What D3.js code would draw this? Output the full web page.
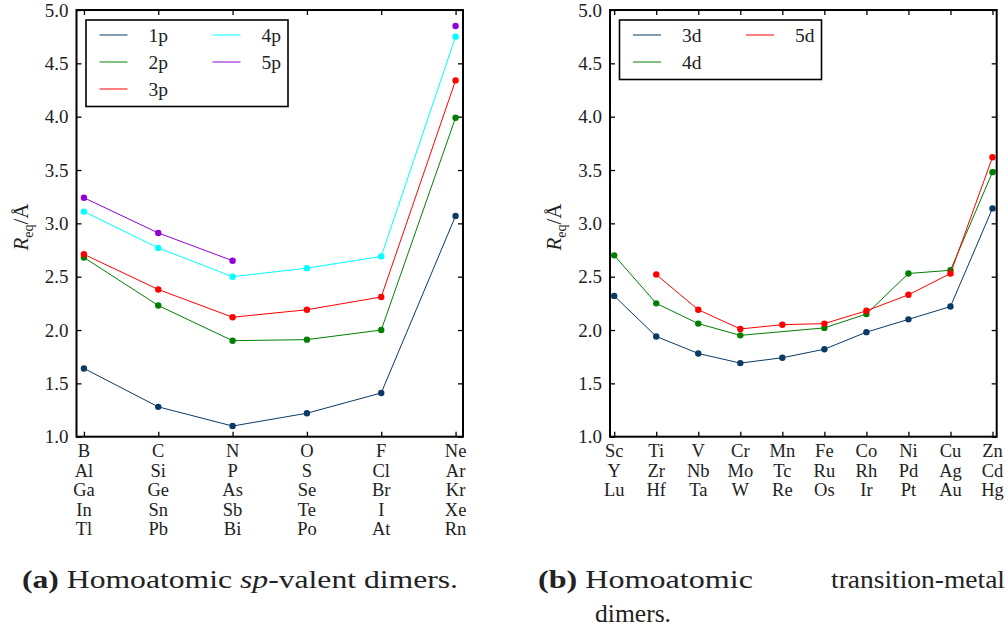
<!DOCTYPE html>
<html>
<head>
<meta charset="utf-8">
<script src="https://cdn.jsdelivr.net/npm/d3@7"></script>
<style>
  body { margin: 0; background: #fff; }
</style>
</head>
<body>
<svg id="chart" width="1008" height="633" font-family="Liberation Serif, DejaVu Serif, serif"></svg>
<script>
const FONT = 'Liberation Serif, DejaVu Serif, serif';

// --- panel (a): sp-valent dimers ---
const spCols = [
  ['B', 'Al', 'Ga', 'In', 'Tl'],
  ['C', 'Si', 'Ge', 'Sn', 'Pb'],
  ['N', 'P', 'As', 'Sb', 'Bi'],
  ['O', 'S', 'Se', 'Te', 'Po'],
  ['F', 'Cl', 'Br', 'I', 'At'],
  ['Ne', 'Ar', 'Kr', 'Xe', 'Rn']
];
const spNames = ['1p', '2p', '3p', '4p', '5p'];
const sp1 = [1.64, 1.28, 1.10, 1.22, 1.41, 3.07];
const sp2 = [2.68, 2.23, 1.90, 1.91, 2.00, 3.99];
const sp3 = [2.71, 2.38, 2.12, 2.19, 2.31, 4.34];
const sp4 = [3.11, 2.77, 2.50, 2.58, 2.69, 4.75];
const sp5 = [3.24, 2.91, 2.65, null, null, 4.85];

// --- panel (b): transition-metal dimers ---
const tmCols = [
  ['Sc', 'Y', 'Lu'], ['Ti', 'Zr', 'Hf'], ['V', 'Nb', 'Ta'], ['Cr', 'Mo', 'W'],
  ['Mn', 'Tc', 'Re'], ['Fe', 'Ru', 'Os'], ['Co', 'Rh', 'Ir'], ['Ni', 'Pd', 'Pt'],
  ['Cu', 'Ag', 'Au'], ['Zn', 'Cd', 'Hg']
];
const tmNames = ['3d', '4d', '5d'];
const tm3 = [2.32, 1.94, 1.78, 1.69, 1.74, 1.82, 1.98, 2.10, 2.22, 3.14];
const tm4 = [2.70, 2.25, 2.06, 1.95, null, 2.02, 2.15, 2.53, 2.56, 3.48];
const tm5 = [null, 2.52, 2.19, 2.01, 2.05, 2.06, 2.18, 2.33, 2.53, 3.62];

const yTicks = [1.0, 1.5, 2.0, 2.5, 3.0, 3.5, 4.0, 4.5, 5.0];
const colors = ['#0b3a66', '#008000', '#ff0000', '#00ffff', '#9400d3'];

const svg = d3.select('#chart');

function panel(opt) {
  const x = d3.scaleLinear().domain([-0.1, opt.cols.length - 0.9]).range([opt.x0, opt.x1]);
  const y = d3.scaleLinear().domain([1, 5]).range([436.7, 10]);
  const g = svg.append('g');

  // ticks on all four sides, pointing in
  const idx = d3.range(opt.cols.length);
  g.append('g').attr('transform', 'translate(0,436.7)')
    .call(d3.axisBottom(x).tickValues(idx).tickSize(-5).tickFormat(''));
  g.append('g').attr('transform', 'translate(0,10)')
    .call(d3.axisTop(x).tickValues(idx).tickSize(-5).tickFormat(''));
  g.append('g').attr('transform', `translate(${opt.x0},0)`)
    .call(d3.axisLeft(y).tickValues(yTicks).tickSize(-5).tickPadding(8).tickFormat(d3.format('.1f')));
  g.append('g').attr('transform', `translate(${opt.x1},0)`)
    .call(d3.axisRight(y).tickValues(yTicks).tickSize(-5).tickFormat(''));
  g.selectAll('.domain').remove();
  g.selectAll('.tick line').attr('stroke', '#000').attr('stroke-width', 1.3);
  g.selectAll('.tick text').attr('font-family', FONT).attr('font-size', 19).attr('fill', '#222');

  // element labels below axis
  const lab = g.append('g').attr('font-size', 18.5).attr('fill', '#222').attr('text-anchor', 'middle');
  opt.cols.forEach((col, i) => {
    col.forEach((el, j) => {
      lab.append('text').attr('x', x(i)).attr('y', 457 + j * 19.6).text(el);
    });
  });

  // series
  opt.series.forEach((vals, s) => {
    const pts = vals.map((v, i) => ({ i, v }));
    const line = d3.line().x(d => x(d.i)).y(d => y(d.v)).defined(d => d.v != null);
    // panel (b) joins across missing elements, panel (a) breaks the line
    const data = opt.bridge ? pts.filter(d => d.v != null) : pts;
    g.append('path').datum(data).attr('d', line)
      .attr('fill', 'none').attr('stroke', colors[s]).attr('stroke-width', 1);
    g.selectAll(null).data(pts.filter(d => d.v != null)).join('circle')
      .attr('cx', d => x(d.i)).attr('cy', d => y(d.v)).attr('r', 3.2)
      .attr('fill', colors[s]);
  });

  // frame
  g.append('rect').attr('x', opt.x0).attr('y', 10).attr('width', opt.x1 - opt.x0).attr('height', 426.7)
    .attr('fill', 'none').attr('stroke', '#000').attr('stroke-width', 2);

  // y label
  const yl = g.append('text').attr('transform', `translate(${opt.ylx},227) rotate(-90)`)
    .attr('text-anchor', 'middle').attr('font-size', 21).attr('fill', '#222');
  yl.append('tspan').attr('font-style', 'italic').text('R');
  yl.append('tspan').attr('font-size', 14).attr('dy', 5).text('eq');
  yl.append('tspan').attr('dy', -5).text('/Å');

  // legend
  const L = opt.legend;
  g.append('rect').attr('x', L.x).attr('y', L.y).attr('width', L.w).attr('height', L.h)
    .attr('fill', '#fff').attr('stroke', '#000').attr('stroke-width', 1.6);
  opt.names.forEach((name, s) => {
    const col = Math.floor(s / L.rows), row = s % L.rows;
    const lx = L.x + 13.5 + col * 113, ly = L.y + 15 + row * 27;
    g.append('line').attr('x1', lx).attr('x2', lx + 28).attr('y1', ly).attr('y2', ly)
      .attr('stroke', colors[s]).attr('stroke-width', 1);
    g.append('text').attr('x', lx + 49).attr('y', ly + 6.5).attr('font-size', 19.5).attr('fill', '#222').text(name);
  });
}

panel({
  x0: 76.5, x1: 463, cols: spCols, names: spNames,
  series: [sp1, sp2, sp3, sp4, sp5], bridge: false, ylx: 28,
  legend: { x: 86, y: 20, w: 202, h: 86.5, rows: 3 }
});
panel({
  x0: 610, x1: 996.7, cols: tmCols, names: tmNames,
  series: [tm3, tm4, tm5], bridge: true, ylx: 561,
  legend: { x: 619.5, y: 20, w: 202, h: 59.5, rows: 2 }
});

// captions (stretched to the widths of the LaTeX original)
const cap = svg.append('g').attr('font-size', 26).attr('fill', '#222');
const ca = cap.append('text').attr('x', 22).attr('y', 588)
  .attr('textLength', 436).attr('lengthAdjust', 'spacingAndGlyphs');
ca.append('tspan').attr('font-weight', 'bold').text('(a)');
ca.append('tspan').text(' Homoatomic ');
ca.append('tspan').attr('font-style', 'italic').text('sp');
ca.append('tspan').text('-valent dimers.');
const cb = cap.append('text').attr('x', 538).attr('y', 588)
  .attr('textLength', 215).attr('lengthAdjust', 'spacingAndGlyphs');
cb.append('tspan').attr('font-weight', 'bold').text('(b)');
cb.append('tspan').text(' Homoatomic');
cap.append('text').attr('x', 831).attr('y', 588)
  .attr('textLength', 174).attr('lengthAdjust', 'spacingAndGlyphs').text('transition-metal');
cap.append('text').attr('x', 595).attr('y', 622)
  .attr('textLength', 76).attr('lengthAdjust', 'spacingAndGlyphs').text('dimers.');
</script>
</body>
</html>
